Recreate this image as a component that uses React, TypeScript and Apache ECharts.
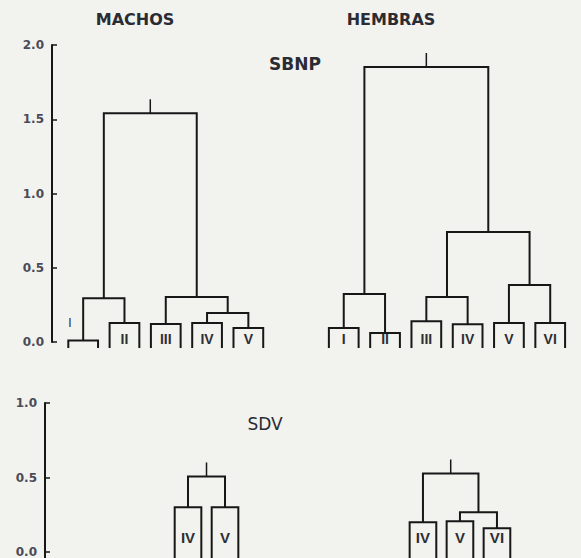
import React, { useEffect, useRef } from "react";
import * as echarts from "echarts";

// ---------- data ----------
const groupTitles = ["MACHOS", "HEMBRAS"];
const panelTitles = ["SBNP", "SDV"];
const sbnpYTicks = [0, 0.5, 1.0, 1.5, 2.0];
const sdvYTicks = [0, 0.5, 1.0];

// SBNP – machos
const sbnpMachosLeaves = ["I", "II", "III", "IV", "V"];
const sbnpMachosLeafHeights = [0.01, 0.128, 0.121, 0.128, 0.094];
const sbnpMachosMerges = [
  [0, 1, 0.295],
  [3, 4, 0.195],
  [2, 6, 0.303],
  [5, 7, 1.54],
];

// SBNP – hembras
const sbnpHembrasLeaves = ["I", "II", "III", "IV", "V", "VI"];
const sbnpHembrasLeafHeights = [0.094, 0.06, 0.14, 0.12, 0.128, 0.128];
const sbnpHembrasMerges = [
  [0, 1, 0.323],
  [2, 3, 0.303],
  [4, 5, 0.384],
  [7, 8, 0.74],
  [6, 9, 1.852],
];

// SDV – machos
const sdvMachosLeaves = ["IV", "V"];
const sdvMachosLeafHeights = [0.3, 0.3];
const sdvMachosMerges = [[0, 1, 0.507]];

// SDV – hembras
const sdvHembrasLeaves = ["IV", "V", "VI"];
const sdvHembrasLeafHeights = [0.2, 0.207, 0.16];
const sdvHembrasMerges = [
  [1, 2, 0.267],
  [0, 3, 0.527],
];

// ---------- layout / style ----------
const BG = "#f2f2ee";
const INK = "#171717";
const TEXT = "#2a2b33";

const PANELS = [
  {
    grid: { left: 52, top: 45, height: 297, right: 6 },
    xMin: -0.755,
    xMax: 11.91,
    groupStart: [0, 6.31],
    legBottom: -0.04,
    labelY: 0.02,
    labelFont: 'bold 14px "Liberation Sans", Arial, sans-serif',
    ticks: sbnpYTicks,
    trees: [
      [sbnpMachosLeaves, sbnpMachosLeafHeights, sbnpMachosMerges],
      [sbnpHembrasLeaves, sbnpHembrasLeafHeights, sbnpHembrasMerges],
    ],
  },
  {
    grid: { left: 45, top: 403, height: 150, right: 6 },
    xMin: -3.865,
    xMax: 10.459,
    groupStart: [0, 6.35],
    legBottom: -0.1,
    labelY: 0.1,
    labelFont: 'bold 15px "Liberation Sans", Arial, sans-serif',
    ticks: sdvYTicks,
    trees: [
      [sdvMachosLeaves, sdvMachosLeafHeights, sdvMachosMerges],
      [sdvHembrasLeaves, sdvHembrasLeafHeights, sdvHembrasMerges],
    ],
  },
];

const HALF_W = 0.36;
const ROOT_TICK_PX = 14;

type Seg = {
  x1: number;
  x2: number;
  y1: number;
  y2: number;
  top: number;
  label?: string;
  lx?: number;
  ly?: number;
  side?: boolean;
  root?: boolean;
};

function buildSegments(
  leaves: string[],
  heights: number[],
  merges: number[][],
  start: number,
  legBottom: number,
  labelY: number
): Seg[] {
  const n = leaves.length;
  const nx: number[] = [];
  const ny: number[] = [];
  const segs: Seg[] = [];
  leaves.forEach((lab, i) => {
    const x = start + i;
    nx[i] = x;
    ny[i] = heights[i];
    const small = heights[i] < 0.04;
    segs.push({
      x1: x - HALF_W,
      x2: x + HALF_W,
      y1: legBottom,
      y2: legBottom,
      top: heights[i],
      label: lab,
      lx: small ? x - 0.32 : x,
      ly: small ? 0.128 : labelY,
      side: small,
    });
  });
  merges.forEach(([a, b, h], k) => {
    nx[n + k] = (nx[a] + nx[b]) / 2;
    ny[n + k] = h;
    segs.push({
      x1: nx[a],
      x2: nx[b],
      y1: ny[a],
      y2: ny[b],
      top: h,
      root: k === merges.length - 1,
    });
  });
  return segs;
}

export default function App() {
  const ref = useRef<HTMLDivElement>(null);

  useEffect(() => {
    document.body.style.margin = "0";
    document.body.style.background = BG;
    if (!ref.current) return;
    const chart = echarts.init(ref.current, null, { renderer: "svg" });

    const series: any[] = [];
    PANELS.forEach((p, pi) => {
      p.trees.forEach(([leaves, heights, merges], gi) => {
        const segs = buildSegments(
          leaves as string[],
          heights as number[],
          merges as number[][],
          p.groupStart[gi],
          p.legBottom,
          p.labelY
        );
        series.push({
          type: "custom",
          name: `${panelTitles[pi]} ${groupTitles[gi]}`,
          xAxisIndex: pi,
          yAxisIndex: pi,
          clip: false,
          silent: true,
          encode: { x: 0, y: 1 },
          data: segs.map((s) => [s.x1, s.top]),
          renderItem: (params: any, api: any) => {
            const s = segs[params.dataIndex];
            const a = api.coord([s.x1, s.y1]);
            const b = api.coord([s.x1, s.top]);
            const c = api.coord([s.x2, s.top]);
            const d = api.coord([s.x2, s.y2]);
            const children: any[] = [
              {
                type: "polyline",
                shape: { points: [a, b, c, d] },
                style: { stroke: INK, lineWidth: 2, fill: "none" },
              },
            ];
            if (s.root) {
              const mx = (b[0] + c[0]) / 2;
              children.push({
                type: "line",
                shape: { x1: mx, y1: b[1], x2: mx, y2: b[1] - ROOT_TICK_PX },
                style: { stroke: INK, lineWidth: 1.5 },
              });
            }
            if (s.label) {
              const pos = api.coord([s.lx, s.ly]);
              children.push({
                type: "text",
                x: pos[0],
                y: pos[1],
                style: {
                  text: s.label,
                  fill: "#2e2e35",
                  font: s.side
                    ? '12px "Liberation Sans", Arial, sans-serif'
                    : p.labelFont,
                  align: "center",
                  verticalAlign: "middle",
                },
              });
            }
            return { type: "group", children };
          },
        });
      });
    });

    const yAxisFor = (ticks: number[], gridIndex: number) => ({
      gridIndex,
      type: "value",
      min: ticks[0],
      max: ticks[ticks.length - 1],
      interval: ticks[1] - ticks[0],
      axisLine: { show: true, onZero: false, lineStyle: { color: INK, width: 2 } },
      axisTick: {
        show: true,
        inside: true,
        length: 5,
        lineStyle: { color: INK, width: 1.5 },
      },
      splitLine: { show: false },
      axisLabel: {
        formatter: (v: number) => v.toFixed(1),
        fontFamily: '"DejaVu Sans", sans-serif',
        fontWeight: "bold",
        fontSize: 12,
        color: "#4a4b57",
        margin: 8,
      },
    });

    const titleStyle = (text: string, weight: string, size: number) => ({
      text,
      fill: TEXT,
      font: `${weight} ${size}px "DejaVu Sans", sans-serif`,
      align: "center",
      verticalAlign: "middle",
      textAlign: "center",
      textVerticalAlign: "middle",
    });

    chart.setOption({
      animation: false,
      backgroundColor: BG,
      grid: PANELS.map((p) => ({ ...p.grid, containLabel: false })),
      xAxis: PANELS.map((p, i) => ({
        gridIndex: i,
        type: "value",
        min: p.xMin,
        max: p.xMax,
        show: false,
      })),
      yAxis: PANELS.map((p, i) => yAxisFor(p.ticks, i)),
      graphic: [
        { type: "text", x: 135, y: 19, style: titleStyle(groupTitles[0], "bold", 16) },
        { type: "text", x: 391, y: 19, style: titleStyle(groupTitles[1], "bold", 16) },
        { type: "text", x: 295, y: 64, style: titleStyle(panelTitles[0], "bold", 17) },
        { type: "text", x: 265, y: 424, style: titleStyle(panelTitles[1], "normal", 17) },
        {
          type: "line",
          shape: { x1: 45, y1: 552, x2: 45, y2: 560 },
          style: { stroke: INK, lineWidth: 2 },
        },
      ],
      series,
    });

    return () => chart.dispose();
  }, []);

  return <div ref={ref} style={{ width: 581, height: 558, background: BG }} />;
}
